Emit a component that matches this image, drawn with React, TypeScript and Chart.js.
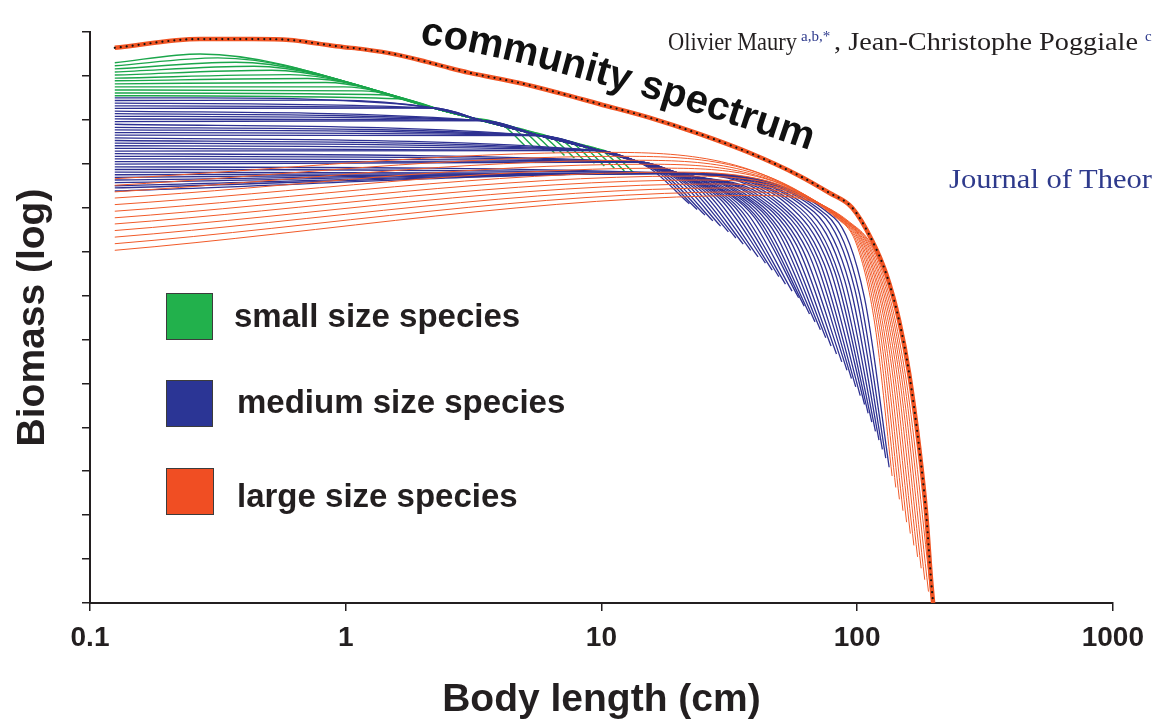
import React, { useEffect, useRef } from "react";
import { Chart, registerables } from "chart.js";

Chart.register(...registerables);

const FONT = "'Liberation Sans', Arial, Helvetica, sans-serif";
const SERIF = "'Liberation Serif', 'Times New Roman', serif";

// ---- axes ----
const lengthTicks = [0.1, 1, 10, 100, 1000];
const biomassTicks = [0, 1, 2, 3, 4, 5, 6, 7, 8, 9, 10, 11, 12, 13];
const firstLength = 0.125;

// ---- community spectrum ----
const communityX = [0.125, 0.269, 0.433, 0.604, 0.791, 0.973, 1.165, 1.597, 2.072, 2.548, 3.05, 4.78, 6.85, 9.82, 15.4, 24.1, 37.9, 59.3, 77.7, 95.6, 114.5, 129.8, 145.9, 159.7, 174.7, 186.1, 194.6, 198.2];
const communityY = [12.64, 12.84, 12.84, 12.82, 12.73, 12.66, 12.61, 12.48, 12.32, 12.18, 12.07, 11.84, 11.61, 11.36, 11.05, 10.68, 10.25, 9.73, 9.34, 9.0, 8.25, 7.5, 6.43, 5.23, 3.55, 2.05, 0.52, 0];

// ---- small size species (green) ----
const smallStart = [12.3, 12.23, 12.16, 12.09, 12.02, 11.95, 11.89, 11.82, 11.75, 11.68, 11.61, 11.55];
const smallJoinX = [0.2694, 0.3162, 0.3717, 0.4371, 0.5141, 0.6043, 0.7106, 0.8354, 0.9822, 1.155, 1.358, 1.597];
const smallJoinY = [12.5, 12.41, 12.31, 12.22, 12.13, 12.03, 11.94, 11.85, 11.75, 11.66, 11.57, 11.48];
const smallMergeX = 2.548;
const smallMergeY = 11.17;
const smallKneeX = [3.05, 3.338, 3.652, 3.996, 4.371, 4.783, 5.233, 5.726, 6.265, 6.853, 7.499, 8.206];
const smallKneeY = [11.06, 11.0, 10.94, 10.88, 10.82, 10.76, 10.71, 10.65, 10.59, 10.53, 10.47, 10.41];
const smallMidX = [4.105, 4.492, 4.914, 5.377, 5.883, 6.436, 7.041, 7.704, 8.429, 9.222, 10.09, 11.04];
const smallMidY = [10.88, 10.82, 10.76, 10.7, 10.64, 10.58, 10.52, 10.47, 10.41, 10.35, 10.29, 10.23];
const smallEndX = [5.003, 5.474, 5.989, 6.553, 7.17, 7.844, 8.583, 9.391, 10.27, 11.24, 12.3, 13.45];
const smallEndY = [10.42, 10.36, 10.3, 10.25, 10.19, 10.13, 10.07, 10.01, 9.95, 9.9, 9.84, 9.78];

// ---- medium size species (blue) ----
const mediumEnvX = [0.125, 0.27, 0.89, 2.19, 3.43, 5.73, 9.82, 14.07, 20.17];
const mediumEnvY = [11.5, 11.5, 11.45, 11.27, 10.98, 10.64, 10.3, 10.04, 9.78];
const mediumStart = [11.5, 11.44, 11.38, 11.32, 11.26, 11.2, 11.14, 11.08, 11.02, 10.96, 10.9, 10.83, 10.77, 10.71, 10.65, 10.59, 10.53, 10.47, 10.41, 10.35, 10.29, 10.23, 10.17, 10.11, 10.05, 9.99, 9.93, 9.87, 9.81, 9.75, 9.69, 9.63, 9.57, 9.5, 9.45, 9.38];
const mediumJoin = [1, 2, 3, 3, 3, 4, 4, 4, 4, 4, 5, 5, 5, 5, 5, 6, 6, 6, 6, 6, 6, 7, 7, 7, 7, 7, 8, 8, 8, 8, 8, 8, 8, 8, 8, 8];
const mediumKneeX = [9.82, 10.46, 11.04, 11.76, 12.52, 13.34, 14.07, 14.99, 15.97, 16.85, 17.95, 19.11, 20.35, 21.48, 22.88, 24.37, 25.72, 27.39, 29.16, 31.06, 32.78, 34.91, 37.18, 39.25, 41.8, 44.5, 47.41, 50.04, 53.29, 56.76, 59.9, 63.78, 67.92, 72.34, 76.35, 81.32];
const mediumKneeY = [10.3, 10.25, 10.21, 10.17, 10.12, 10.08, 10.04, 9.99, 9.95, 9.91, 9.86, 9.82, 9.77, 9.73, 9.69, 9.64, 9.6, 9.56, 9.51, 9.47, 9.43, 9.38, 9.34, 9.3, 9.25, 9.21, 9.16, 9.12, 9.08, 9.03, 8.99, 8.95, 8.9, 8.86, 8.82, 8.77];
const mediumMidX = [15.33, 16.4, 17.47, 18.67, 19.97, 21.35, 22.69, 24.23, 25.86, 27.47, 29.32, 31.17, 33.14, 35.1, 37.28, 39.64, 41.76, 44.1, 46.61, 49.28, 51.83, 54.75, 57.84, 60.81, 64.18, 67.56, 70.98, 74.38, 78.15, 81.84, 85.37, 89.45, 93.56, 97.95, 102.0, 106.8];
const mediumMidY = [9.91, 9.84, 9.77, 9.7, 9.63, 9.55, 9.48, 9.41, 9.33, 9.26, 9.18, 9.1, 9.02, 8.94, 8.86, 8.78, 8.69, 8.6, 8.52, 8.43, 8.34, 8.25, 8.16, 8.08, 7.99, 7.9, 7.8, 7.71, 7.62, 7.53, 7.43, 7.34, 7.24, 7.14, 7.05, 6.95];
const mediumEndX = [22.07, 23.67, 25.42, 27.27, 29.24, 31.37, 33.56, 35.86, 38.34, 40.98, 43.79, 46.53, 49.41, 52.44, 55.64, 59.04, 62.09, 65.12, 68.41, 71.82, 75.39, 79.07, 83.02, 87.07, 91.24, 95.01, 98.75, 102.8, 106.9, 110.4, 114.1, 117.9, 121.7, 125.5, 129.4, 133.4];
const mediumEndY = [9.09, 8.96, 8.83, 8.7, 8.58, 8.45, 8.31, 8.17, 8.03, 7.88, 7.74, 7.58, 7.43, 7.26, 7.1, 6.95, 6.76, 6.58, 6.4, 6.22, 6.04, 5.85, 5.67, 5.49, 5.3, 5.11, 4.92, 4.72, 4.52, 4.32, 4.12, 3.91, 3.71, 3.5, 3.3, 3.09];

// ---- large size species (red) ----
const largeStart = [9.66, 9.51, 9.36, 9.22, 9.07, 8.92, 8.77, 8.63, 8.48, 8.33, 8.18, 8.03];
const largeJoinX = [10.37, 11.74, 13.29, 15.03, 17.02, 19.27, 21.81, 24.7, 27.93, 31.62, 35.8, 40.54];
const largeJoinY = [10.26, 10.17, 10.08, 9.99, 9.9, 9.81, 9.72, 9.63, 9.54, 9.45, 9.36, 9.28];
const largeKneeX = [83.55, 84.38, 85.22, 86.07, 86.92, 87.79, 88.58, 89.45, 90.34, 91.24, 92.14, 93.06];
const largeKneeY = [8.75, 8.75, 8.74, 8.73, 8.73, 8.72, 8.71, 8.7, 8.7, 8.69, 8.68, 8.68];
const largeBendX = [99.82, 101.6, 103.5, 105.4, 107.3, 109.3, 111.2, 113.2, 115.3, 117.4, 119.6, 121.8];
const largeBendY = [8.14, 8.1, 8.07, 8.04, 8.0, 7.97, 7.93, 7.9, 7.87, 7.83, 7.8, 7.76];
const largeDropX = [117.4, 120.4, 123.6, 126.7, 129.9, 133.4, 136.8, 140.4, 144.0, 147.6, 151.5, 155.4];
const largeDropY = [6.33, 6.22, 6.1, 5.99, 5.88, 5.77, 5.65, 5.54, 5.43, 5.32, 5.2, 5.09];
const largeEndX = [137.0, 141.6, 146.3, 151.1, 156.1, 161.4, 166.7, 172.3, 178.0, 183.8, 190.1, 196.3];
const largeEndY = [2.89, 2.63, 2.36, 2.1, 1.84, 1.58, 1.31, 1.05, 0.79, 0.53, 0.26, 0];

// ---- colours ----
const GREEN = "#1ba64b";
const BLUE = "#2e3192";
const RED = "#f15a29";
const COMMUNITY = "#f05423";
const INK = "#231f20";
const JOURNAL_BLUE = "#2e3a8c";

type P = { x: number; y: number };

function smallLines(): P[][] {
  return smallStart.map((s, g) => [
    { x: firstLength, y: s },
    { x: smallJoinX[g], y: smallJoinY[g] },
    { x: smallMergeX, y: smallMergeY },
    { x: smallKneeX[g], y: smallKneeY[g] },
    { x: smallMidX[g], y: smallMidY[g] },
    { x: smallEndX[g], y: smallEndY[g] },
  ]);
}

function mediumLines(): P[][] {
  return mediumStart.map((s, k) => {
    const d: P[] = [{ x: firstLength, y: s }];
    for (let i = mediumJoin[k]; i < mediumEnvX.length; i++) {
      if (mediumEnvX[i] < mediumKneeX[k]) d.push({ x: mediumEnvX[i], y: mediumEnvY[i] });
    }
    d.push(
      { x: mediumKneeX[k], y: mediumKneeY[k] },
      { x: mediumMidX[k], y: mediumMidY[k] },
      { x: mediumEndX[k], y: mediumEndY[k] }
    );
    return d;
  });
}

function largeLines(): P[][] {
  return largeStart.map((s, r) => [
    { x: firstLength, y: s },
    { x: largeJoinX[r], y: largeJoinY[r] },
    { x: largeKneeX[r], y: largeKneeY[r] },
    { x: largeBendX[r], y: largeBendY[r] },
    { x: largeDropX[r], y: largeDropY[r] },
    { x: largeEndX[r], y: largeEndY[r] },
  ]);
}

export default function App() {
  const canvasRef = useRef<HTMLCanvasElement | null>(null);

  useEffect(() => {
    const canvas = canvasRef.current;
    if (!canvas) return;
    const lineBase = {
      pointRadius: 0,
      pointHoverRadius: 0,
      fill: false,
      cubicInterpolationMode: "monotone" as const,
      borderJoinStyle: "round" as const,
    };
    const community = communityX.map((x, i) => ({ x, y: communityY[i] }));
    const datasets: any[] = [
      {
        ...lineBase,
        label: "community dots",
        data: community,
        borderColor: "#111111",
        borderWidth: 2.2,
        borderDash: [0, 6],
        borderCapStyle: "round",
      },
      {
        ...lineBase,
        label: "community spectrum",
        data: community,
        borderColor: COMMUNITY,
        borderWidth: 4.5,
      },
      ...largeLines().map((d, i) => ({ ...lineBase, label: "large " + i, data: d, borderColor: RED, borderWidth: 1 })),
      ...mediumLines().map((d, i) => ({ ...lineBase, label: "medium " + i, data: d, borderColor: BLUE, borderWidth: 1.3 })),
      ...smallLines().map((d, i) => ({ ...lineBase, label: "small " + i, data: d, borderColor: GREEN, borderWidth: 1.4 })),
    ];

    const axisGrid = {
      drawOnChartArea: false,
      drawTicks: true,
      tickLength: 8,
      color: INK,
      tickColor: INK,
      lineWidth: 1.5,
      tickWidth: 1.5,
    };
    const axisBorder = { display: true, color: INK, width: 2 };

    const chart = new Chart(canvas, {
      type: "line",
      data: { datasets },
      options: {
        responsive: false,
        animation: false,
        events: [],
        layout: { padding: { left: 0, top: 32, right: 39, bottom: 0 } },
        plugins: {
          legend: { display: false },
          tooltip: { enabled: false },
          title: { display: false },
        },
        scales: {
          x: {
            type: "logarithmic",
            position: "bottom",
            min: 0.1,
            max: 1000,
            afterBuildTicks: (s: any) => {
              s.ticks = lengthTicks.map((v) => ({ value: v }));
            },
            afterFit: (s: any) => {
              s.height = 125;
            },
            ticks: {
              autoSkip: false,
              maxRotation: 0,
              minRotation: 0,
              padding: 10,
              color: INK,
              font: { family: FONT, size: 28, weight: "bold" },
              callback: (v: any) => String(v),
            },
            grid: axisGrid,
            border: axisBorder,
            title: {
              display: true,
              text: "Body length (cm)",
              color: INK,
              font: { family: FONT, size: 39, weight: "bold" },
              padding: { top: 0, bottom: 4 },
            },
          },
          y: {
            type: "linear",
            position: "left",
            min: 0,
            max: 13,
            afterBuildTicks: (s: any) => {
              s.ticks = biomassTicks.map((v) => ({ value: v }));
            },
            afterFit: (s: any) => {
              s.width = 90;
            },
            ticks: { display: false },
            grid: axisGrid,
            border: axisBorder,
            title: {
              display: true,
              text: "Biomass (log)",
              color: INK,
              font: { family: FONT, size: 39, weight: "bold" },
              padding: { top: 10, bottom: 0 },
            },
          },
        },
      } as any,
    });
    return () => chart.destroy();
  }, []);

  return (
    <div
      style={{
        position: "fixed",
        left: 0,
        top: 0,
        width: 1154,
        height: 728,
        background: "#ffffff",
        overflow: "hidden",
      }}
    >
      <canvas
        ref={canvasRef}
        width={1154}
        height={728}
        style={{ position: "absolute", left: 0, top: 0, width: 1154, height: 728, display: "block" }}
      />
      <svg
        width={1154}
        height={728}
        viewBox="0 0 1154 728"
        style={{ position: "absolute", left: 0, top: 0, pointerEvents: "none" }}
      >
        <defs>
          <path id="csPath" d="M 420 44 Q 540 58 815 152" fill="none" />
        </defs>
        <text fontFamily={FONT} fontWeight="bold" fontSize={40} fill="#111111">
          <textPath href="#csPath">community spectrum</textPath>
        </text>

        <text x={668} y={50} fontFamily={SERIF} fontSize={26} fill={INK} textLength={129} lengthAdjust="spacingAndGlyphs">
          Olivier Maury
        </text>
        <text x={801} y={41} fontFamily={SERIF} fontSize={15} fill={JOURNAL_BLUE}>
          a,b,*
        </text>
        <text x={834} y={50} fontFamily={SERIF} fontSize={26} fill={INK} textLength={304} lengthAdjust="spacingAndGlyphs">
          , Jean-Christophe Poggiale
        </text>
        <text x={1145} y={41} fontFamily={SERIF} fontSize={15} fill={JOURNAL_BLUE}>
          c
        </text>
        <text x={949} y={188} fontFamily={SERIF} fontSize={28} fill={JOURNAL_BLUE} textLength={203} lengthAdjust="spacingAndGlyphs">
          Journal of Theor
        </text>

        <rect x={166.5} y={293.5} width={46} height={46} fill="#22b14c" stroke="#3c3c3c" strokeWidth={1} />
        <rect x={166.5} y={380.5} width={46} height={46} fill="#2b3595" stroke="#3c3c3c" strokeWidth={1} />
        <rect x={166.5} y={468.5} width={47} height={46} fill="#f04e23" stroke="#3c3c3c" strokeWidth={1} />
        <text x={234} y={327} fontFamily={FONT} fontWeight="bold" fontSize={33} fill={INK}>
          small size species
        </text>
        <text x={237} y={413} fontFamily={FONT} fontWeight="bold" fontSize={33} fill={INK}>
          medium size species
        </text>
        <text x={237} y={507} fontFamily={FONT} fontWeight="bold" fontSize={33} fill={INK}>
          large size species
        </text>
      </svg>
    </div>
  );
}
